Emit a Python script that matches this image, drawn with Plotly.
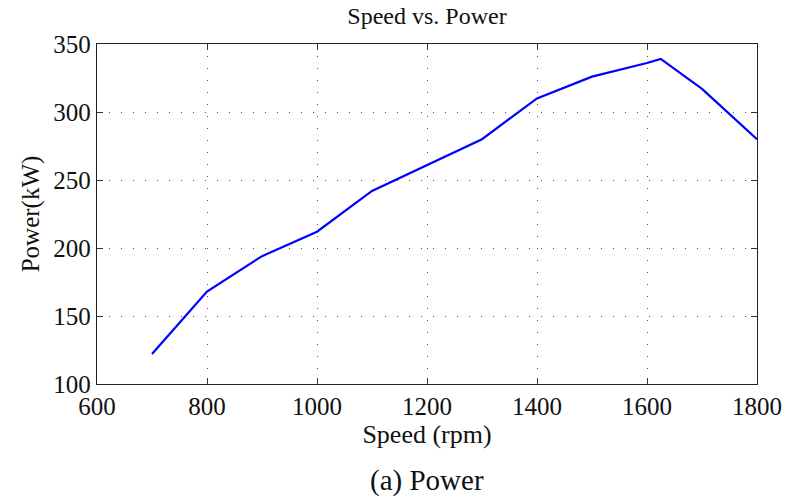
import plotly.graph_objects as go

# Engine speed (rpm) and measured power (kW)
speed_rpm = [700, 800, 900, 1000, 1100, 1200, 1300, 1400, 1500, 1600, 1625, 1700, 1800]
power_kw = [122, 168, 194, 212, 242, 261, 280, 310, 326, 336, 339, 317, 280]

x_ticks = [600, 800, 1000, 1200, 1400, 1600, 1800]
y_ticks = [100, 150, 200, 250, 300, 350]

FONT = "Liberation Serif"
INK = "#111"

fig = go.Figure()
fig.add_trace(go.Scatter(
    x=speed_rpm, y=power_kw, mode="lines",
    line=dict(color="#0000ff", width=2.2),
    showlegend=False,
))

axis_common = dict(
    showline=True, linecolor="#222", linewidth=1.3, mirror="ticks",
    ticks="inside", ticklen=6, tickcolor="#333", tickwidth=1.2,
    showgrid=True, gridcolor="#555", gridwidth=1, griddash="1px,11px",
    zeroline=False, automargin=False,
    tickfont=dict(family=FONT, size=25, color=INK),
)

fig.update_xaxes(
    range=[600, 1800], tickvals=x_ticks,
    title=dict(text="Speed (rpm)", font=dict(family=FONT, size=26, color=INK), standoff=2),
    **axis_common,
)
fig.update_yaxes(
    range=[100, 350], tickvals=y_ticks,
    title=dict(text="Power(kW)", font=dict(family=FONT, size=25, color=INK), standoff=6),
    **axis_common,
)

fig.add_annotation(
    text="(a) Power", xref="paper", yref="paper", x=0.5, y=-0.228,
    xanchor="center", yanchor="top", showarrow=False,
    font=dict(family=FONT, size=29, color=INK),
)

fig.update_layout(
    width=785, height=496,
    margin=dict(l=97, r=28, t=44, b=112),
    paper_bgcolor="white", plot_bgcolor="white",
    title=dict(text="Speed vs. Power", x=0.5, xanchor="center", y=0.969, yanchor="middle",
               xref="paper",
               font=dict(family=FONT, size=24, color=INK)),
)

fig.write_html("out.html")
